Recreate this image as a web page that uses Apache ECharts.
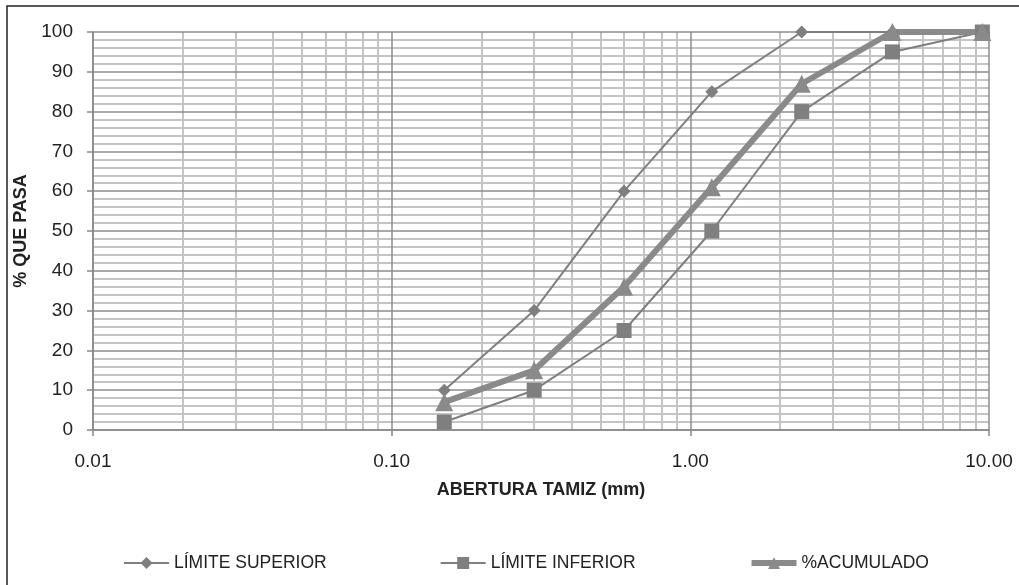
<!DOCTYPE html>
<html>
<head>
<meta charset="utf-8">
<script src="https://cdn.jsdelivr.net/npm/echarts@6/dist/echarts.min.js"></script>
<style>
  html, body { margin: 0; padding: 0; background: #fff; }
  #chart { width: 1019px; height: 585px; }
</style>
</head>
<body>
<div id="chart"></div>
<script>
// aberturas de tamiz (mm)
const sieves = [0.15, 0.3, 0.6, 1.18, 2.36, 4.75, 9.5];
const limSuperior = [10, 30, 60, 85, 100, 100, 100];
const limInferior = [2, 10, 25, 50, 80, 95, 100];
const acumulado = [7, 15, 36, 61, 87, 100, 100];
// lineas menores del eje log
const minorX = [0.02, 0.03, 0.04, 0.05, 0.06, 0.07, 0.08, 0.09,
  0.2, 0.3, 0.4, 0.5, 0.6, 0.7, 0.8, 0.9,
  2, 3, 4, 5, 6, 7, 8, 9];

const FONT = "'Liberation Sans', sans-serif";
const GRAY = "#7f7f7f";

const pair = (ys) => sieves.map((x, i) => [x, ys[i]]);

const chart = echarts.init(document.getElementById("chart"));
chart.setOption({
  animation: false,
  textStyle: { fontFamily: FONT },
  graphic: [{
    type: "rect",
    shape: { x: 7, y: 6, width: 1100, height: 700 },
    style: { fill: "none", stroke: "#222", lineWidth: 1.5 },
  }],
  grid: { left: 93, right: 30, top: 32, bottom: 155 },
  legend: {
    left: 118,
    top: 549,
    itemWidth: 45,
    itemHeight: 15,
    itemGap: 113,
    textStyle: { fontSize: 17.5, color: "#222", fontFamily: FONT },
    data: [
      { name: "LÍMITE SUPERIOR", lineStyle: { width: 2 } },
      { name: "LÍMITE INFERIOR", lineStyle: { width: 2 } },
      { name: "%ACUMULADO", lineStyle: { width: 6 } },
    ],
  },
  xAxis: {
    type: "log",
    logBase: 10,
    min: 0.01,
    max: 10,
    name: "ABERTURA TAMIZ (mm)",
    nameLocation: "middle",
    nameGap: 51,
    nameTextStyle: { fontSize: 18, fontWeight: "bold", color: "#222", fontFamily: FONT },
    axisLine: { lineStyle: { color: "#888", width: 1.5 } },
    axisTick: { show: true, length: 6, lineStyle: { color: "#888", width: 1.5 } },
    axisLabel: { fontSize: 19, color: "#222", margin: 22, formatter: (v) => v.toFixed(2) },
    splitLine: { show: true, lineStyle: { color: "#8c8c8c", width: 1.5 } },
  },
  yAxis: {
    type: "value",
    min: 0,
    max: 100,
    interval: 10,
    name: "% QUE PASA",
    nameLocation: "middle",
    nameGap: 57,
    nameRotate: 90,
    nameTextStyle: { fontSize: 18, fontWeight: "bold", color: "#222", fontFamily: FONT },
    axisLine: { show: true, lineStyle: { color: "#888", width: 1.5 } },
    axisTick: { show: true, length: 6, lineStyle: { color: "#888", width: 1.5 } },
    axisLabel: { fontSize: 19, color: "#222", margin: 20 },
    splitLine: { show: true, lineStyle: { color: "#8c8c8c", width: 1.5 } },
    minorTick: { show: false, splitNumber: 5 },
    minorSplitLine: { show: true, lineStyle: { color: "#c4c4c4", width: 2 } },
  },
  series: [
    {
      // solo para las divisiones menores verticales
      type: "line",
      data: [],
      z: -1,
      silent: true,
      markLine: {
        silent: true,
        z: -1,
        symbol: ["none", "none"],
        label: { show: false },
        lineStyle: { color: "#c4c4c4", width: 2, type: "solid" },
        data: minorX.map((x) => ({ xAxis: x })),
      },
    },
    {
      name: "LÍMITE SUPERIOR",
      type: "line",
      data: pair(limSuperior),
      symbol: "diamond",
      symbolSize: 13,
      lineStyle: { color: GRAY, width: 2 },
      itemStyle: { color: GRAY },
    },
    {
      name: "LÍMITE INFERIOR",
      type: "line",
      data: pair(limInferior),
      symbol: "rect",
      symbolSize: 15,
      lineStyle: { color: GRAY, width: 2 },
      itemStyle: { color: GRAY },
    },
    {
      name: "%ACUMULADO",
      type: "line",
      data: pair(acumulado),
      symbol: "triangle",
      symbolSize: 18,
      lineStyle: { color: "#8a8a8a", width: 6 },
      itemStyle: { color: "#8a8a8a" },
    },
  ],
});
</script>
</body>
</html>
